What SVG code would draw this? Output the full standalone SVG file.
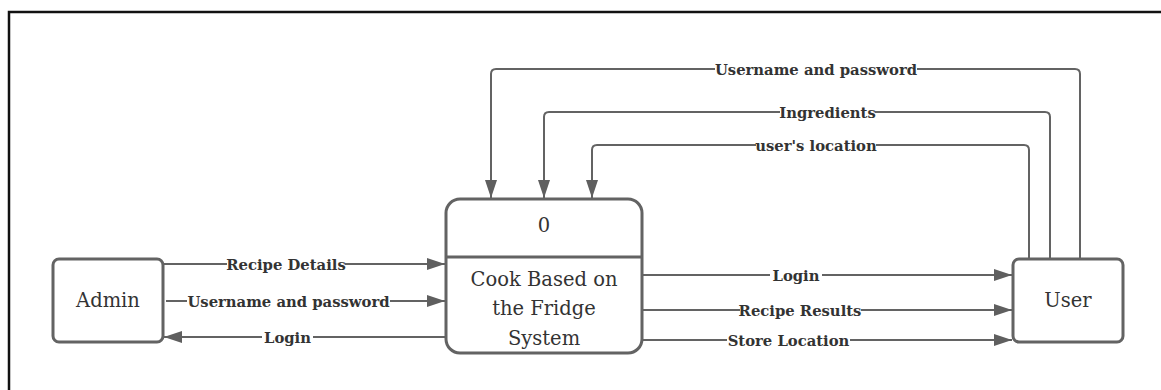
<svg xmlns="http://www.w3.org/2000/svg" width="1161" height="390" viewBox="0 0 1161 390">
<style>
.box{fill:#fff;stroke:#636363;stroke-width:3}
.ln{fill:none;stroke:#636363;stroke-width:2}
.bg{fill:#fff}
.nt{font-family:"DejaVu Serif","Liberation Serif",serif;font-size:19.5px;fill:#333;text-anchor:middle;dominant-baseline:central}
.lb{font-family:"DejaVu Serif","Liberation Serif",serif;font-size:14.8px;font-weight:bold;fill:#333;text-anchor:middle;dominant-baseline:central}
</style>
<defs>
<marker id="ah" viewBox="0 0 18 12" refX="18" refY="6" markerWidth="18" markerHeight="12" markerUnits="userSpaceOnUse" orient="auto">
<path d="M0,0 L18,6 L0,12 z" fill="#5f5f5f"/>
</marker>
</defs>
<rect width="1161" height="390" fill="#fff"/>
<path d="M9,390 V12 H1161" fill="none" stroke="#111" stroke-width="2.5"/>
<g id="connectors">
<path class="ln" marker-end="url(#ah)" d="M163,264 H445"/>
<path class="ln" marker-end="url(#ah)" d="M166,301 H445"/>
<path class="ln" marker-end="url(#ah)" d="M445,337 H164"/>
<path class="ln" marker-end="url(#ah)" d="M643,275 H1012"/>
<path class="ln" marker-end="url(#ah)" d="M643,310 H1012"/>
<path class="ln" marker-end="url(#ah)" d="M643,340 H1012"/>
<path class="ln" marker-end="url(#ah)" d="M1080,259 V74 Q1080,69 1075,69 H496 Q491,69 491,74 V198"/>
<path class="ln" marker-end="url(#ah)" d="M1050,259 V117 Q1050,112 1045,112 H549 Q544,112 544,117 V198"/>
<path class="ln" marker-end="url(#ah)" d="M1029,259 V150 Q1029,145 1024,145 H597 Q592,145 592,150 V198"/>
<rect class="bg" x="227" y="256" width="118" height="16"/>
<rect class="bg" x="187" y="293" width="203" height="16"/>
<rect class="bg" x="262" y="329" width="51" height="16"/>
<rect class="bg" x="715" y="61" width="202" height="16"/>
<rect class="bg" x="780" y="104" width="95" height="16"/>
<rect class="bg" x="756" y="137" width="120" height="16"/>
<rect class="bg" x="770" y="267" width="52" height="16"/>
<rect class="bg" x="740" y="302" width="121" height="16"/>
<rect class="bg" x="727" y="332" width="123" height="16"/>
<text class="lb" x="286" y="264">Recipe Details</text>
<text class="lb" x="288.5" y="301">Username and password</text>
<text class="lb" x="287.5" y="337">Login</text>
<text class="lb" x="816" y="69">Username and password</text>
<text class="lb" x="827.5" y="112">Ingredients</text>
<text class="lb" x="816" y="145">user's location</text>
<text class="lb" x="796" y="275">Login</text>
<text class="lb" x="800" y="310">Recipe Results</text>
<text class="lb" x="788.5" y="340">Store Location</text>
</g>
<g id="admin">
<rect class="box" x="53" y="259" width="110" height="83" rx="6"/>
<text class="nt" x="108" y="300">Admin</text>
</g>
<g id="process">
<rect class="box" x="446" y="199" width="196" height="154" rx="14"/>
<line x1="446" y1="257" x2="642" y2="257" stroke="#636363" stroke-width="3"/>
<text class="nt" x="544" y="225">0</text>
<text class="nt" x="544" y="279">Cook Based on</text>
<text class="nt" x="544" y="308">the Fridge</text>
<text class="nt" x="544" y="338">System</text>
</g>
<g id="user">
<rect class="box" x="1013" y="259" width="110" height="83" rx="6"/>
<text class="nt" x="1068" y="300">User</text>
</g>
</svg>
